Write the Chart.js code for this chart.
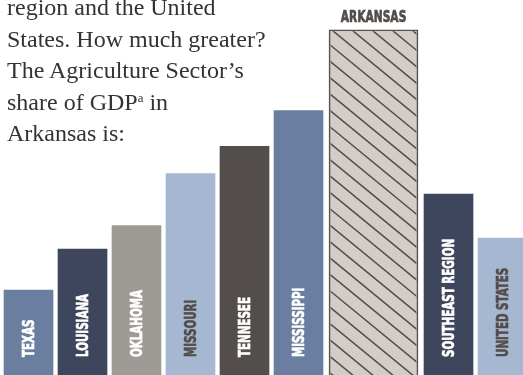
<!DOCTYPE html>
<html><head><meta charset="utf-8">
<script src="https://cdn.jsdelivr.net/npm/chart.js@4"></script>
<style>
html,body{margin:0;padding:0;background:#fff;}
#wrap{position:relative;width:523px;height:375px;overflow:hidden;}
canvas{position:absolute;left:0;top:0;}
#txt{position:absolute;left:7px;top:-8px;font-family:"Liberation Serif","Times New Roman",serif;font-size:24px;line-height:31.5px;color:#333333;white-space:nowrap;z-index:2;}
#txt sup{font-size:13px;position:relative;top:-8px;vertical-align:baseline;line-height:0;}
</style></head>
<body>
<div id="wrap">
<canvas id="c" width="523" height="375"></canvas>
<div id="txt">region and the United<br>States. How much greater?<br>The Agriculture Sector’s<br>share of GDP<sup>a</sup> in<br>Arkansas is:</div>
</div>
<script>
// ---- data ----
const categories = ['TEXAS','LOUISIANA','OKLAHOMA','MISSOURI','TENNESEE','MISSISSIPPI','ARKANSAS','SOUTHEAST REGION','UNITED STATES'];
const agShare    = [0.62, 0.92, 1.09, 1.47, 1.67, 1.93, 2.52, 1.32, 1.00];
const highlight  = 'ARKANSAS';

// ---- styles / layout ----
const barColors  = ['#6a7e9f','#3e465e','#9e9a95','#a6b8d1','#534e4b','#6a7e9f','#d2cdc9','#3e465e','#a6b8d1'];
const labelColors= ['#ffffff','#ffffff','#ffffff','#534e4b','#ffffff','#ffffff','#534e4b','#ffffff','#534e4b'];
const slotWidths = categories.map(c => c === highlight ? 1.778 : 1);
const hi = categories.indexOf(highlight);

// slot centres from slot widths
const centers = [];
let acc = 0;
slotWidths.forEach((w, i) => { centers.push(acc + w / 2 - slotWidths[0] / 2); acc += w; });

const normalData = categories.map((c, i) => ({x: centers[i], y: i === hi ? null : agShare[i]}));
const hiData     = categories.map((c, i) => ({x: centers[i], y: i === hi ? agShare[i] : null}));

const LABEL_FONT = '"DejaVu Sans Condensed","DejaVu Sans",sans-serif';
const SQUEEZE = 0.74;

const labelPlugin = {
  id: 'labels',
  afterDatasetsDraw(chart) {
    const ctx = chart.ctx;
    // hatch on highlighted bar
    const hel = chart.getDatasetMeta(1).data[hi];
    if (hel) {
      const bw = 1.6;
      const x0 = hel.x - hel.width / 2, x1 = hel.x + hel.width / 2;
      ctx.save();
      ctx.beginPath();
      ctx.rect(x0 + bw, hel.y + bw, hel.width - 2 * bw, hel.base - hel.y - bw);
      ctx.clip();
      ctx.strokeStyle = '#524c48';
      ctx.lineWidth = 1.5;
      const k = 0.82, step = 16.4;
      const yStart = hel.y + 14.3;
      for (let n = -30; n < 30; n++) {
        const yl = yStart + n * step;
        ctx.beginPath();
        ctx.moveTo(x0, yl);
        ctx.lineTo(x1, yl + k * (x1 - x0));
        ctx.stroke();
      }
      ctx.restore();
      // label above
      ctx.save();
      ctx.translate(hel.x, hel.y - 8);
      ctx.scale(0.72, 1);
      ctx.font = 'bold 16.5px ' + LABEL_FONT;
      ctx.fillStyle = '#534e4b';
      ctx.strokeStyle = '#534e4b';
      ctx.lineWidth = 0.7;
      ctx.textAlign = 'center';
      ctx.textBaseline = 'alphabetic';
      ctx.fillText(categories[hi], 0, 0);
      ctx.strokeText(categories[hi], 0, 0);
      ctx.restore();
    }
    // vertical labels inside bars
    const meta = chart.getDatasetMeta(0);
    meta.data.forEach((el, i) => {
      if (i === hi || agShare[i] == null) return;
      ctx.save();
      ctx.translate(el.x, el.base - 18);
      ctx.rotate(-Math.PI / 2);
      ctx.scale(SQUEEZE, 1);
      ctx.font = 'bold 15.5px ' + LABEL_FONT;
      ctx.fillStyle = labelColors[i];
      ctx.strokeStyle = labelColors[i];
      ctx.lineWidth = 0.6;
      ctx.textAlign = 'left';
      ctx.textBaseline = 'alphabetic';
      ctx.fillText(categories[i], 0, 5.7);
      ctx.strokeText(categories[i], 0, 5.7);
      ctx.restore();
    });
  }
};

const pxPitch = 54;
const xMin = -28.5 / pxPitch;
const xMax = xMin + 523 / pxPitch;

new Chart(document.getElementById('c'), {
  type: 'bar',
  data: {
    datasets: [
      { data: normalData, backgroundColor: categories.map((c,i)=>barColors[i]), barThickness: 49, maxBarThickness: 200, borderWidth: 0 },
      { data: hiData, backgroundColor: barColors[hi], borderColor: '#57514d', borderWidth: 1.6, barThickness: 89, maxBarThickness: 200 }
    ]
  },
  options: {
    responsive: false,
    animation: false,
    devicePixelRatio: 1,
    layout: { padding: 0 },
    datasets: { bar: { grouped: false } },
    plugins: { legend: { display: false }, tooltip: { enabled: false }, title: { display: false } },
    scales: {
      x: { type: 'linear', min: xMin, max: xMax, offset: false, bounds: 'data', display: false, grid: { offset: false } },
      y: { min: 0, max: 375 / 137, display: false }
    }
  },
  plugins: [labelPlugin]
});
</script>
</body></html>
